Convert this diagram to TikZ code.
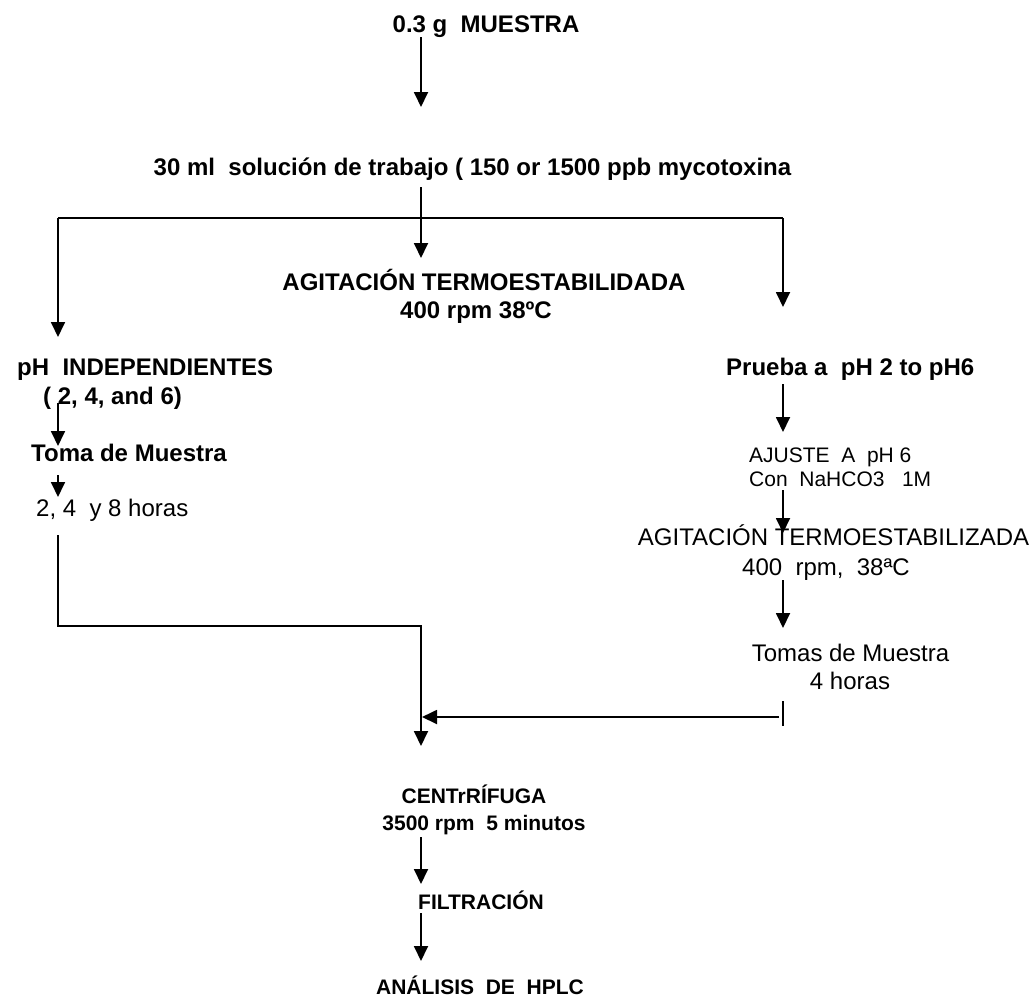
\documentclass[tikz,border=0pt]{standalone}
\usepackage{fontspec}
\setmainfont{Liberation Sans}
\usetikzlibrary{arrows.meta}
\begin{document}
\begin{tikzpicture}[x=1pt,y=-1pt,
  bl/.style={font=\fontsize{24}{28}\selectfont\bfseries, inner sep=0pt},
  nl/.style={font=\fontsize{24}{28}\selectfont, inner sep=0pt},
  bs/.style={font=\fontsize{21}{25}\selectfont\bfseries, inner sep=0pt},
  ns/.style={font=\fontsize{21}{25}\selectfont, inner sep=0pt},
  arr/.style={line width=1.8pt, -{Triangle[length=15pt,width=14pt]}},
  ln/.style={line width=1.8pt},
  lnk/.style={line width=2.5pt}]
\useasboundingbox (0,0) rectangle (1036,997);

% ---- text nodes ----
\node[bl, anchor=base] (t1) at (486,32.6) {0.3 g\ \ MUESTRA};
\node[bl, anchor=base] (t2) at (472.5,175.6) {30 ml\ \ solución de trabajo ( 150 or 1500 ppb mycotoxina};
\node[bl, anchor=base] (t3a) at (484,290.6) {AGITACIÓN TERMOESTABILIDADA};
\node[bl, anchor=base] (t3b) at (476,318.6) {400 rpm 38ºC};

\node[bl, anchor=base west] (l1a) at (17,375.6) {pH\ \ INDEPENDIENTES};
\node[bl, anchor=base west] (l1b) at (43,404.6) {( 2, 4, and 6)};
\node[bl, anchor=base west] (l2) at (31,461.6) {Toma de Muestra};
\node[nl, anchor=base west] (l3) at (36,516.6) {2, 4\ \ y 8 horas};

\node[bl, anchor=base west] (r1) at (726,375.6) {Prueba a\ \ pH 2 to pH6};
\node[ns, anchor=base west] (r2a) at (749,462.5) {AJUSTE\ \ A\ \ pH 6};
\node[ns, anchor=base west] (r2b) at (749,486.5) {Con\ \ NaHCO3\ \ \ 1M};
\node[nl, anchor=base] (r3a) at (833.5,545.6) {AGITACIÓN TERMOESTABILIZADA};
\node[nl, anchor=base] (r3b) at (826,575.6) {400\ \ rpm,\ \ 38ªC};
\node[nl, anchor=base] (r4a) at (850.5,661.6) {Tomas de Muestra};
\node[nl, anchor=base] (r4b) at (850,689.6) {4 horas};

\node[bs, anchor=base] (b1a) at (474,803.5) {CENTrRÍFUGA};
\node[bs, anchor=base] (b1b) at (484,830.5) {3500 rpm\ \ 5 minutos};
\node[bs, anchor=base] (b2) at (481,909.5) {FILTRACIÓN};
\node[bs, anchor=base] (b3) at (480,994.5) {ANÁLISIS\ \ DE\ \ HPLC};

% ---- connector points ----
\coordinate (a1s) at (421,37);   \coordinate (a1e) at (421,107);
\coordinate (a2s) at (421,187);  \coordinate (a2e) at (421,258);
\coordinate (brL) at (58,218);   \coordinate (brR) at (783,218);
\coordinate (brLe) at (58,337);  \coordinate (brRe) at (783,307);
\coordinate (l1s) at (58,403);   \coordinate (l1e) at (58,446);
\coordinate (l2s) at (58,475);   \coordinate (l2e) at (58,497);
\coordinate (l3s) at (58,535);   \coordinate (l3c) at (58,626);
\coordinate (l3d) at (421,626);  \coordinate (mrg) at (421,746);
\coordinate (r1s) at (783,384);  \coordinate (r1e) at (783,432);
\coordinate (r2s) at (783,490);  \coordinate (r2e) at (783,533);
\coordinate (r3s) at (783,580);  \coordinate (r3e) at (783,628);
\coordinate (tk1) at (783,701);  \coordinate (tk2) at (783,726);
\coordinate (r4s) at (779,717);  \coordinate (r4e) at (422,717);
\coordinate (b1s) at (421,837);  \coordinate (b1e) at (421,884);
\coordinate (b2s) at (421,913);  \coordinate (b2e) at (421,961);

% ---- connectors ----
\draw[arr] (a1s) -- (a1e);
\draw[arr] (a2s) -- (a2e);
\draw[lnk] (brL) -- (brR);
\draw[arr] (brL) -- (brLe);
\draw[arr] (brR) -- (brRe);
\draw[arr] (l1s) -- (l1e);
\draw[arr] (l2s) -- (l2e);
\draw[arr] (l3s) -- (l3c) -- (l3d) -- (mrg);
\draw[arr] (r1s) -- (r1e);
\draw[arr] (r2s) -- (r2e);
\draw[arr] (r3s) -- (r3e);
\draw[ln] (tk1) -- (tk2);
\draw[arr] (r4s) -- (r4e);
\draw[arr] (b1s) -- (b1e);
\draw[arr] (b2s) -- (b2e);
\end{tikzpicture}
\end{document}
